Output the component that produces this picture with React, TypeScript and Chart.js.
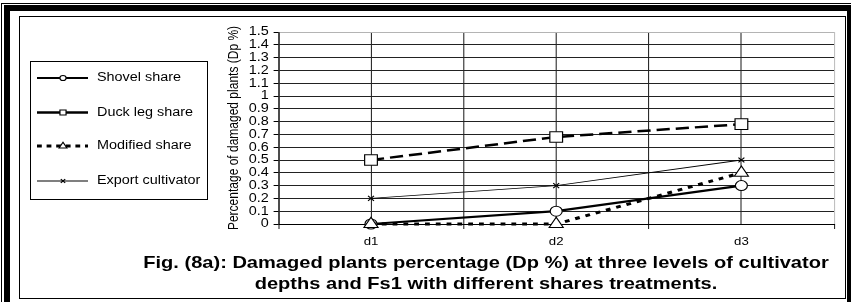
import React, { useEffect, useRef } from 'react';
import { Chart, registerables } from 'chart.js';
import { drawPoint } from 'chart.js/helpers';

Chart.register(...registerables);

// ---------------- data ----------------
const categories = ['d1', 'd2', 'd3'];
const seriesNames = ['Shovel share', 'Duck leg share', 'Modified share', 'Export cultivator'];
const shovelShare = [0, 0.1, 0.3];
const duckLegShare = [0.5, 0.68, 0.78];
const modifiedShare = [0, 0, 0.4];
const exportCultivator = [0.2, 0.3, 0.5];
const yTickValues = [0, 0.1, 0.2, 0.3, 0.4, 0.5, 0.6, 0.7, 0.8, 0.9, 1, 1.1, 1.2, 1.3, 1.4, 1.5];
const yTickLabels = ['0', '0.1', '0.2', '0.3', '0.4', '0.5', '0.6', '0.7', '0.8', '0.9', '1', '1.1', '1.2', '1.3', '1.4', '1.5'];
const yAxisTitle = 'Percentage of damaged plants (Dp %)';
const captionLines = [
  'Fig. (8a): Damaged plants percentage (Dp %) at three levels of cultivator',
  'depths and Fs1 with different shares treatments.',
];

// ---------------- layout / style ----------------
const SX = 1.2; // horizontal stretch of the whole chart drawing
const W = 851;
const H = 302;
const FONT = '"Liberation Sans", Arial, Helvetica, sans-serif';
const seriesValues = [shovelShare, duckLegShare, modifiedShare, exportCultivator];
// category i sits at 2i+1 on a 0..6 linear axis so that grid lines fall on centres and boundaries
const catPos = (i: number) => 2 * i + 1;
const xGridValues = [0, 1, 2, 3, 4, 5, 6];

const seriesStyle: any[] = [
  { borderWidth: 2.2, borderDash: [], pointStyle: 'circle', pointRadius: 5, legendRadius: 2.6, legendDash: [], order: 4 },
  { borderWidth: 2.5, borderDash: [11, 5], pointStyle: 'rect', pointRadius: 7.5, legendRadius: 3.6, legendDash: [], order: 3 },
  { borderWidth: 3, borderDash: [4, 5], pointStyle: 'triangle', pointRadius: 6.8, legendRadius: 3.8, legendDash: [4, 4], order: 2 },
  { borderWidth: 0.9, borderDash: [], pointStyle: 'crossRot', pointRadius: 3.5, legendRadius: 2.6, legendDash: [], order: 1 },
];
const legendRows = [78, 112.5, 146, 181];

const stretchLegendPlugin = {
  id: 'stretchLegend',
  beforeDraw(chart: any) {
    const c = chart.ctx;
    c.save();
    c.setTransform(SX, 0, 0, 1, 0, 0);
  },
  afterDraw(chart: any) {
    const c = chart.ctx;
    // legend box
    const bx0 = 30 / SX, bx1 = 207 / SX, by0 = 61, by1 = 199;
    c.save();
    c.fillStyle = '#000';
    c.fillRect(bx0, by0, bx1 - bx0, 1);
    c.fillRect(bx0, by1, bx1 - bx0, 1);
    c.fillRect(bx0, by0, 1 / SX, by1 - by0 + 1);
    c.fillRect(bx1, by0, 1 / SX, by1 - by0 + 1);
    c.restore();
    seriesNames.forEach((name, i) => {
      const st = seriesStyle[i];
      const y = legendRows[i];
      c.save();
      c.strokeStyle = '#000';
      c.lineCap = 'butt';
      c.lineWidth = st.borderWidth;
      c.setLineDash(st.legendDash);
      c.beginPath();
      c.moveTo(37 / SX, y);
      c.lineTo(88 / SX, y);
      c.stroke();
      c.setLineDash([]);
      c.fillStyle = '#fff';
      c.lineWidth = 1;
      drawPoint(c, { pointStyle: st.pointStyle, radius: st.legendRadius, borderWidth: 1, rotation: 0 } as any, 63 / SX, y);
      c.fillStyle = '#000';
      c.font = '12px ' + FONT;
      c.textBaseline = 'middle';
      c.textAlign = 'left';
      c.fillText(name, 97 / SX, y);
      c.restore();
    });
    c.restore();
  },
};

export default function App() {
  const ref = useRef<HTMLCanvasElement>(null);

  useEffect(() => {
    const canvas = ref.current;
    if (!canvas) return;
    const chart = new Chart(canvas, {
      type: 'line',
      data: {
        datasets: seriesValues.map((vals, i) => ({
          label: seriesNames[i],
          data: vals.map((v, j) => ({ x: catPos(j), y: v })),
          borderColor: '#000',
          backgroundColor: '#fff',
          borderWidth: seriesStyle[i].borderWidth,
          borderDash: seriesStyle[i].borderDash,
          pointStyle: seriesStyle[i].pointStyle,
          pointRadius: seriesStyle[i].pointRadius,
          pointBorderWidth: 1,
          pointBackgroundColor: '#fff',
          pointBorderColor: '#000',
          tension: 0,
          fill: false,
          clip: false,
          order: seriesStyle[i].order,
        })),
      } as any,
      options: {
        animation: false,
        responsive: false,
        devicePixelRatio: 1,
        events: [],
        layout: { padding: { left: 184, right: W / SX - 695, top: 32, bottom: 48 } },
        plugins: { legend: { display: false }, tooltip: { enabled: false }, title: { display: false } },
        scales: {
          x: {
            type: 'linear',
            min: 0,
            max: 6,
            afterBuildTicks: (s: any) => { s.ticks = xGridValues.map((value) => ({ value })); },
            afterFit: (s: any) => { s.height = 30; },
            ticks: {
              autoSkip: false,
              maxRotation: 0,
              padding: 6,
              color: '#000',
              font: { size: 11, family: FONT },
              callback: (v: any) => { const n = Number(v); return n % 2 === 1 ? categories[(n - 1) / 2] : ''; },
            },
            grid: {
              color: (ctx: any) => (ctx.tick && ctx.tick.value === 6 ? '#b4b4b4' : '#000'),
              lineWidth: 1 / SX,
              tickLength: 5,
              tickWidth: 1 / SX,
              tickColor: (ctx: any) => (ctx.tick && ctx.tick.value % 2 === 1 ? 'rgba(0,0,0,0)' : '#000'),
            },
            border: { color: '#000', width: 1 },
          },
          y: {
            type: 'linear',
            min: 0,
            max: 1.5,
            afterBuildTicks: (s: any) => { s.ticks = yTickValues.map((value) => ({ value })); },
            afterFit: (s: any) => { s.width = 48; },
            ticks: {
              autoSkip: false,
              padding: 4,
              color: '#000',
              font: { size: 12, family: FONT },
              callback: (_v: any, i: number) => yTickLabels[i],
            },
            grid: {
              color: (ctx: any) => (ctx.tick && ctx.tick.value >= 1.5 ? '#b4b4b4' : '#222'),
              lineWidth: 1,
              tickLength: 4,
              tickColor: '#000',
            },
            border: { color: '#000', width: 1 / SX },
            title: {
              display: true,
              text: yAxisTitle,
              color: '#000',
              font: { size: 12, family: FONT },
              padding: { top: 4, bottom: 4 },
            },
          },
        },
      } as any,
      plugins: [stretchLegendPlugin],
    });
    chart.width = W / SX;
    chart.update();
    return () => chart.destroy();
  }, []);

  return (
    <div style={{ position: 'fixed', left: 0, top: 0, width: W, height: H, overflow: 'hidden', background: '#fff' }}>
      <div style={{ position: 'absolute', left: 1, top: 3, width: 1000, height: 1000, borderLeft: '1px solid #000', borderTop: '1px solid #000' }} />
      <div style={{ position: 'absolute', left: 4, top: 5, width: 837, height: 1000, borderLeft: '6px solid #000', borderTop: '6px solid #000', borderRight: '5px solid #000' }} />
      <div style={{ position: 'absolute', left: 19, top: 16, width: 825, height: 281, border: '1px solid #000' }} />
      <canvas ref={ref} width={W} height={H} style={{ position: 'absolute', left: 0, top: 0, width: W, height: H }} />
      <div
        style={{
          position: 'absolute',
          left: 86,
          top: 252,
          width: 800,
          textAlign: 'center',
          font: 'bold 17px/21px "Liberation Sans", Arial, sans-serif',
          color: '#000',
          whiteSpace: 'nowrap',
          transform: 'scaleX(1.18)',
          transformOrigin: '50% 50%',
        }}
      >
        {captionLines[0]}
        <br />
        {captionLines[1]}
      </div>
    </div>
  );
}
